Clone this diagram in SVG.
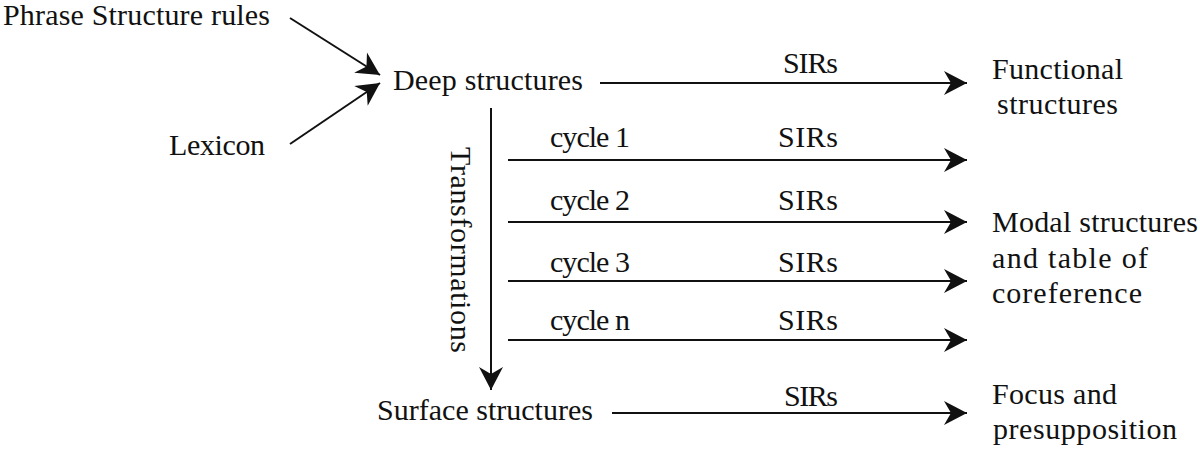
<svg xmlns="http://www.w3.org/2000/svg" width="1200" height="458" viewBox="0 0 1200 458">
<style>
text{font-family:"Liberation Serif","Times New Roman",serif;font-size:30px;fill:#111}
.ln{stroke:#111;stroke-width:2;fill:none}
</style>
<defs>
<marker id="ah" markerUnits="userSpaceOnUse" markerWidth="26" markerHeight="28" viewBox="-24 -14 26 28" refX="0" refY="0" orient="auto">
<path d="M0,0 L-23,-12 L-16,0 L-23,12 Z" fill="#111"/>
</marker>
</defs>
<rect width="1200" height="458" fill="#fff"/>
<g id="phrase-structure-rules"><text x="3" y="25" textLength="267">Phrase Structure rules</text></g>
<g id="lexicon"><text x="169" y="155" textLength="96">Lexicon</text></g>
<g id="deep-structures"><text x="393" y="90" textLength="190">Deep structures</text></g>
<g id="surface-structures"><text x="377" y="420" textLength="216">Surface structures</text></g>
<g id="functional-structures"><text x="992" y="79" textLength="131">Functional</text><text x="997" y="114" textLength="121">structures</text></g>
<g id="modal-structures"><text x="992" y="232" textLength="206">Modal structures</text><text x="992" y="268" textLength="156">and table of</text><text x="992" y="303" textLength="150">coreference</text></g>
<g id="focus-presupposition"><text x="992" y="404" textLength="125">Focus and</text><text x="993" y="439" textLength="184">presupposition</text></g>
<g id="connectors">
<line class="ln" x1="290" y1="18" x2="380" y2="75" marker-end="url(#ah)"/>
<line class="ln" x1="290" y1="144" x2="380" y2="83" marker-end="url(#ah)"/>
<line class="ln" x1="600" y1="83" x2="967" y2="83" marker-end="url(#ah)"/>
<line class="ln" x1="491" y1="108" x2="491" y2="390" marker-end="url(#ah)"/>
<line class="ln" x1="508" y1="160" x2="967" y2="160" marker-end="url(#ah)"/>
<line class="ln" x1="508" y1="222" x2="967" y2="222" marker-end="url(#ah)"/>
<line class="ln" x1="508" y1="281" x2="967" y2="281" marker-end="url(#ah)"/>
<line class="ln" x1="508" y1="340" x2="967" y2="340" marker-end="url(#ah)"/>
<line class="ln" x1="612" y1="413" x2="967" y2="413" marker-end="url(#ah)"/>
<text x="783" y="73" textLength="55">SIRs</text>
<text transform="translate(451,147) rotate(90)" x="0" y="0" textLength="206">Transformations</text>
<text x="550" y="147" textLength="80">cycle 1</text>
<text x="778" y="147" textLength="60">SIRs</text>
<text x="550" y="210" textLength="80">cycle 2</text>
<text x="778" y="210" textLength="60">SIRs</text>
<text x="550" y="272" textLength="80">cycle 3</text>
<text x="778" y="272" textLength="60">SIRs</text>
<text x="550" y="330" textLength="80">cycle n</text>
<text x="778" y="330" textLength="60">SIRs</text>
<text x="784" y="406" textLength="54">SIRs</text>
</g>
</svg>
